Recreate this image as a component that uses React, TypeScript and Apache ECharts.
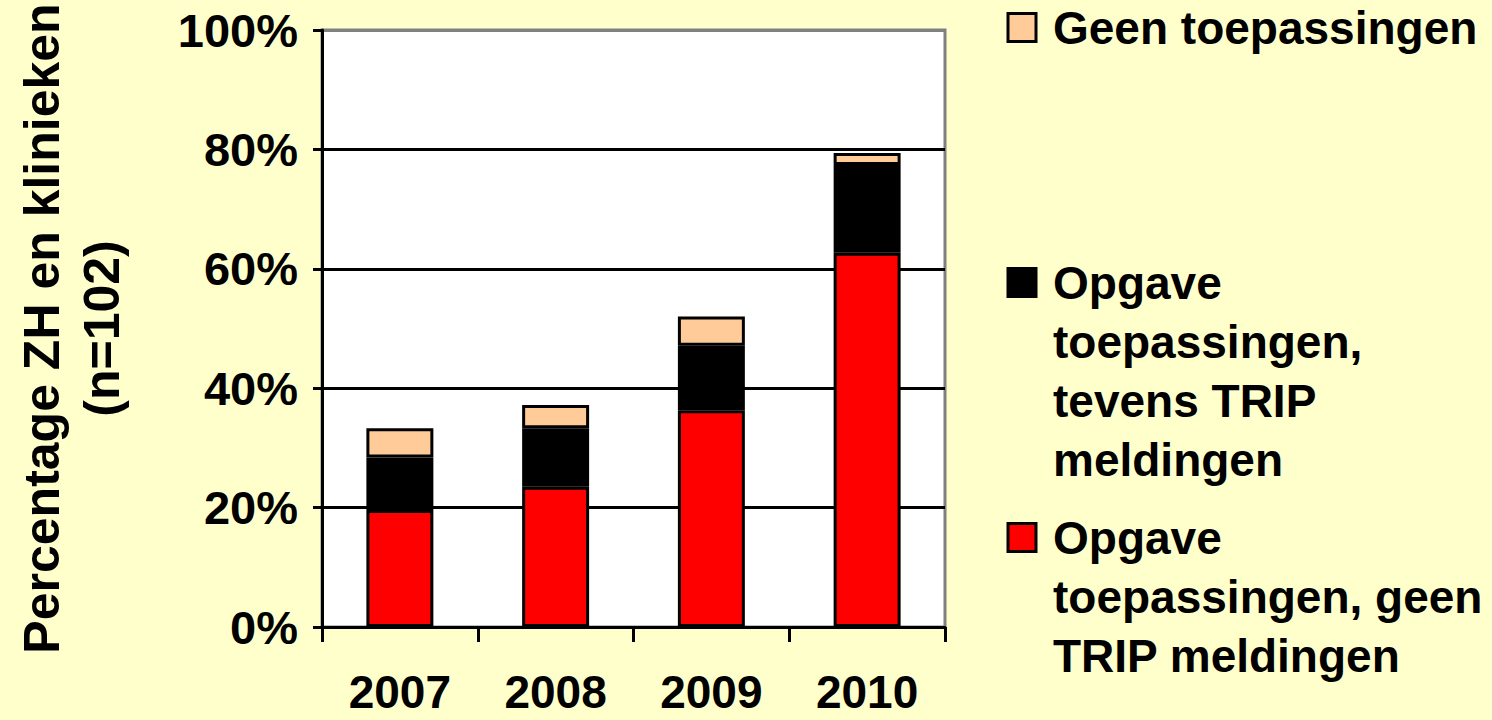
import React, { useEffect, useRef } from "react";
import * as echarts from "echarts";

const years = ["2007", "2008", "2009", "2010"];
const yTicks = [0, 20, 40, 60, 80, 100];
const seriesNames = [
  "Opgave toepassingen, geen TRIP meldingen",
  "Opgave toepassingen, tevens TRIP meldingen",
  "Geen toepassingen",
];
const legendLabels = [
  "Opgave\ntoepassingen, geen\nTRIP meldingen",
  "Opgave\ntoepassingen,\ntevens TRIP\nmeldingen",
  "Geen toepassingen",
];
const seriesColors = ["#FF0000", "#000000", "#FFCC99"];
const geenTrip = [19.6, 23.5, 36.3, 62.7];
const tevensTrip = [8.8, 9.8, 10.8, 14.7];
const geenToepassingen = [4.9, 3.9, 4.9, 2.0];
const yAxisTitle = "Percentage ZH en klinieken\n(n=102)";

const FONT = "'Liberation Sans', Arial, sans-serif";

export default function App() {
  const ref = useRef<HTMLDivElement>(null);
  useEffect(() => {
    if (!ref.current) return;
    const chart = echarts.init(ref.current, null, { renderer: "svg" });
    const values = [geenTrip, tevensTrip, geenToepassingen];
    const legendTops = [522, 267, 12];
    const graphic: any[] = [];
    [2, 1, 0].forEach((i) => {
      const top = legendTops[i];
      graphic.push({
        type: "rect",
        shape: { x: 1008, y: top + 1.5, width: 28, height: 28 },
        style: { fill: seriesColors[i], stroke: "#000", lineWidth: 3 },
      });
      graphic.push({
        type: "text",
        x: 1053,
        y: top + 15.5 - 29.5,
        style: {
          text: legendLabels[i],
          font: `bold 46px ${FONT}`,
          fill: "#000",
          lineHeight: 59,
          verticalAlign: "top",
          align: "left",
        },
      });
    });
    chart.setOption({
      animation: false,
      backgroundColor: "#FFFFCC",
      grid: {
        left: 322,
        right: 547,
        top: 30,
        bottom: 93,
        show: true,
        backgroundColor: "#FFFFFF",
        borderColor: "#808080",
        borderWidth: 3,
      },
      xAxis: {
        type: "category",
        data: years,
        axisLine: { lineStyle: { color: "#000", width: 3 } },
        axisTick: { show: true, length: 15, lineStyle: { color: "#000", width: 3 } },
        axisLabel: {
          color: "#000",
          fontSize: 46,
          fontWeight: "bold",
          fontFamily: FONT,
          margin: 42,
        },
      },
      yAxis: {
        type: "value",
        min: 0,
        max: 100,
        interval: 20,
        name: yAxisTitle,
        nameLocation: "middle",
        nameRotate: 90,
        nameGap: 190,
        nameTextStyle: {
          color: "#000",
          fontSize: 50,
          fontWeight: "bold",
          fontFamily: FONT,
          lineHeight: 60,
        },
        axisLine: { show: true, lineStyle: { color: "#000", width: 3 } },
        axisTick: { show: true, length: 9, lineStyle: { color: "#000", width: 3 } },
        splitLine: {
          show: true,
          lineStyle: {
            color: yTicks.map((t) => (t === 100 ? "#808080" : "#000")),
            width: 3,
          },
        },
        axisLabel: {
          color: "#000",
          fontSize: 47,
          fontWeight: "bold",
          fontFamily: FONT,
          margin: 24,
          formatter: (v: number) => `${v}%`,
        },
      },
      series: seriesNames.map((name, i) => ({
        name,
        type: "bar",
        stack: "total",
        barWidth: "43%",
        data: values[i],
        itemStyle: { color: seriesColors[i], borderColor: "#000", borderWidth: 3 },
      })),
      graphic,
    });
    return () => chart.dispose();
  }, []);
  return (
    <div
      ref={ref}
      style={{ position: "fixed", left: 0, top: 0, width: 1492, height: 720 }}
    />
  );
}
